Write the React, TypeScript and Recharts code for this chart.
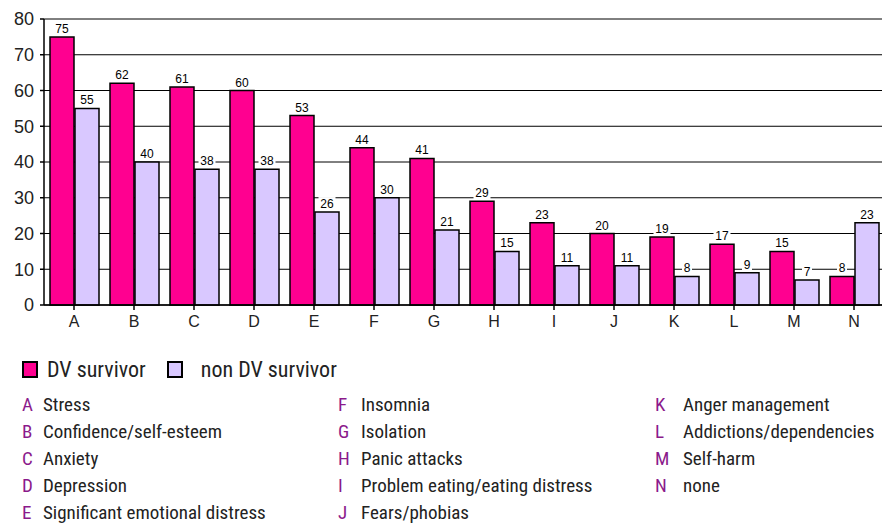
import { BarChart, Bar, XAxis, YAxis, CartesianGrid, LabelList } from 'recharts';

const categories = ['A', 'B', 'C', 'D', 'E', 'F', 'G', 'H', 'I', 'J', 'K', 'L', 'M', 'N'];
const dvSurvivor = [75, 62, 61, 60, 53, 44, 41, 29, 23, 20, 19, 17, 15, 8];
const nonDvSurvivor = [55, 40, 38, 38, 26, 30, 21, 15, 11, 11, 8, 9, 7, 23];
const yTicks = [0, 10, 20, 30, 40, 50, 60, 70, 80];
const keyLabels = [
    'Stress', 'Confidence/self-esteem', 'Anxiety', 'Depression', 'Significant emotional distress',
    'Insomnia', 'Isolation', 'Panic attacks', 'Problem eating/eating distress', 'Fears/phobias',
    'Anger management', 'Addictions/dependencies', 'Self-harm', 'none',
];

const data = categories.map((c, i) => ({ cat: c, dv: dvSurvivor[i], nonDv: nonDvSurvivor[i] }));

const DV_COLOR = '#ff0090';
const NON_COLOR = '#d9c8ff';
const narrow = "'Liberation Sans Narrow', 'Roboto Condensed', Roboto, sans-serif";

function ValueLabel(props: any) {
    const { x, y, width, value } = props;
    const cx = x + width / 2;
    const w = String(value).length * 7 + 3;
    return (
        <g>
            <rect x={cx - w / 2} y={y - 15} width={w} height={13} fill="#fff" />
            <text x={cx} y={y - 4} textAnchor="middle" fontSize={12} fontFamily="Arial, 'Liberation Sans', sans-serif" fill="#000">
                {value}
            </text>
        </g>
    );
}

const columns = [0, 5, 10];
const colX = [22, 338, 655];
const textX = [43, 361, 683];

export default function App() {
    return (
        <div style={{ position: 'absolute', left: 0, top: 0, width: 882, height: 524, overflow: 'hidden', background: '#fff' }}>
            <BarChart
                width={890}
                height={340}
                data={data}
                margin={{ top: 19, right: 6, bottom: 5, left: 0 }}
                barCategoryGap={6}
                barGap={1}
            >
                <CartesianGrid vertical={false} stroke="#000" strokeWidth={1} />
                <XAxis
                    dataKey="cat"
                    height={30}
                    stroke="#000"
                    strokeWidth={1.5}
                    tickSize={5}
                    tickMargin={6}
                    tick={{ fontSize: 16, fill: '#222', fontFamily: 'Arial, sans-serif' }}
                />
                <YAxis
                    width={44}
                    domain={[0, 80]}
                    ticks={yTicks}
                    interval={0}
                    stroke="#000"
                    strokeWidth={1.5}
                    tickSize={4}
                    tickMargin={6}
                    tick={{ fontSize: 18, fill: '#222', fontFamily: 'Arial, sans-serif' }}
                />
                <Bar dataKey="dv" fill={DV_COLOR} stroke="#000" strokeWidth={1.5} isAnimationActive={false}>
                    <LabelList dataKey="dv" content={ValueLabel} />
                </Bar>
                <Bar dataKey="nonDv" fill={NON_COLOR} stroke="#000" strokeWidth={1.5} isAnimationActive={false}>
                    <LabelList dataKey="nonDv" content={ValueLabel} />
                </Bar>
            </BarChart>

            <div style={{ position: 'absolute', top: 357, left: 22, height: 24, display: 'flex', alignItems: 'center', fontFamily: narrow, fontSize: 22, color: '#222' }}>
                <span style={{ width: 12, height: 13, background: DV_COLOR, border: '2px solid #000', display: 'inline-block' }} />
                <span style={{ marginLeft: 9 }}>DV survivor</span>
                <span style={{ marginLeft: 21, width: 12, height: 13, background: NON_COLOR, border: '2px solid #000', display: 'inline-block' }} />
                <span style={{ marginLeft: 18 }}>non DV survivor</span>
            </div>

            {columns.map((start, ci) =>
                keyLabels.slice(start, start + 5).map((label, ri) => (
                    <div key={categories[start + ri]} style={{ position: 'absolute', top: 393 + ri * 27, left: colX[ci], height: 24, lineHeight: '24px', fontFamily: narrow, fontSize: 19, whiteSpace: 'nowrap' }}>
                        <span style={{ color: '#8b1a8b' }}>{categories[start + ri]}</span>
                        <span style={{ position: 'absolute', left: textX[ci] - colX[ci], color: '#222' }}>{label}</span>
                    </div>
                ))
            )}
        </div>
    );
}
